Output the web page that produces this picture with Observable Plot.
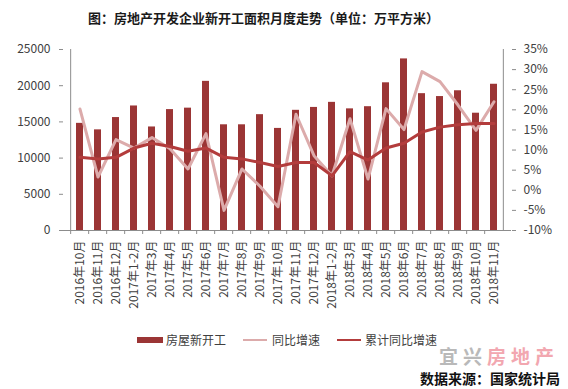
<!DOCTYPE html>
<html>
<head>
<meta charset="utf-8">
<script src="https://cdn.jsdelivr.net/npm/d3@7"></script>
<script src="https://cdn.jsdelivr.net/npm/@observablehq/plot@0.6"></script>
<style>
  body { margin: 0; background: #fff; }
  #wrap { position: relative; width: 568px; height: 389px; overflow: hidden; font-family: "Noto Sans CJK SC", sans-serif; }
  #wrap svg { position: absolute; left: 0; top: 0; }
  .abs { position: absolute; white-space: nowrap; }
  #title { left: 88px; top: 8px; font-size: 13px; font-weight: bold; color: #1a1a1a; }
  .leg { font-size: 12px; color: #404040; line-height: 14px; }
  #source { left: 420px; top: 371px; font-size: 14px; font-weight: bold; color: #111; line-height: 15px; }
  #wm { left: 439px; top: 346px; font-size: 19px; font-weight: bold; letter-spacing: 5px; line-height: 19px; }
</style>
</head>
<body>
<div id="wrap">
  <div id="title" class="abs">图：房地产开发企业新开工面积月度走势（单位：万平方米）</div>
  <div class="abs" style="left:137px;top:337px;width:26px;height:6px;background:#9b3535"></div>
  <div class="abs leg" style="left:166px;top:333px">房屋新开工</div>
  <div class="abs" style="left:243px;top:339px;width:24px;height:2px;background:#dcabab"></div>
  <div class="abs leg" style="left:272px;top:333px">同比增速</div>
  <div class="abs" style="left:337px;top:339px;width:24px;height:2px;background:#b33c3c"></div>
  <div class="abs leg" style="left:365px;top:333px">累计同比增速</div>
  <div id="wm" class="abs"><span style="color:#b9b9b9">宜兴</span><span style="color:#f2a7b0">房地产</span></div>
  <div id="source" class="abs">数据来源：国家统计局</div>
</div>
<script>
const categories = ["2016年10月","2016年11月","2016年12月","2017年1-2月","2017年3月","2017年4月","2017年5月","2017年6月","2017年7月","2017年8月","2017年9月","2017年10月","2017年11月","2017年12月","2018年1-2月","2018年3月","2018年4月","2018年5月","2018年6月","2018年7月","2018年8月","2018年9月","2018年10月","2018年11月"];
const newStarts = [14800,13900,15600,17200,14300,16700,16900,20600,14600,14600,16000,14100,16600,17000,17700,16800,17100,20400,23700,18900,18500,19300,16200,20200];
const yoyGrowth = [20.2,3.3,12.6,10.5,13.1,10.3,5.3,14.1,-5.0,5.3,1.0,-4.1,18.9,8.6,3.6,17.8,2.8,20.3,15.1,29.5,27.0,21.2,14.9,22.0];
const cumGrowth = [8.2,7.8,8.2,10.5,11.7,10.9,9.7,10.5,8.2,7.8,6.9,5.9,6.9,6.9,3.6,9.6,7.5,10.5,11.7,14.5,15.7,16.3,16.6,16.6];
const leftTicks = [0,5000,10000,15000,20000,25000];
const rightTicks = [-10,-5,0,5,10,15,20,25,30,35];

const leftMax = 25000, pMin = -10, pMax = 35;
const toLeft = p => (p - pMin) * leftMax / (pMax - pMin);
const fromLeft = v => v * (pMax - pMin) / leftMax + pMin;

const rows = categories.map((c, i) => ({cat: c, starts: newStarts[i], yoy: yoyGrowth[i], cum: cumGrowth[i]}));

const W = 568, H = 389, mL = 63, mR = 57, mT = 49, mB = 159;
const step = (W - mL - mR) / categories.length;
const axisColor = "#8c8c8c";

const chart = Plot.plot({
  width: W, height: H,
  marginTop: mT, marginBottom: mB, marginLeft: mL, marginRight: mR,
  style: {fontFamily: "'Noto Sans CJK SC', sans-serif", fontSize: "12px", color: "#404040", background: "transparent"},
  x: {domain: categories, paddingInner: 0.6, paddingOuter: 0.3, axis: null},
  y: {domain: [0, leftMax], axis: null},
  marks: [
    Plot.barY(rows, {x: "cat", y: "starts", fill: "#9b3535"}),
    Plot.line(rows, {x: "cat", y: d => toLeft(d.yoy), stroke: "#dcabab", strokeWidth: 3}),
    Plot.line(rows, {x: "cat", y: d => toLeft(d.cum), stroke: "#b33c3c", strokeWidth: 3}),
    Plot.ruleY([0], {stroke: axisColor}),
    Plot.ruleX([categories[0]], {dx: -step / 2, y1: 0, y2: leftMax, stroke: axisColor}),
    Plot.ruleX([categories[categories.length - 1]], {dx: step / 2, y1: 0, y2: leftMax, stroke: axisColor}),
    Plot.axisY({anchor: "left", label: null, ticks: leftTicks, tickSize: 4, tickPadding: 9, stroke: axisColor, tickFormat: d => String(d)}),
    Plot.axisY({anchor: "right", label: null, ticks: rightTicks.map(toLeft), tickSize: 4, tickPadding: 8, stroke: axisColor, tickFormat: v => Math.round(fromLeft(v)) + "%"}),
    Plot.axisX({label: null, tickSize: 4, dx: -step / 2, stroke: axisColor, tickFormat: () => ""}),
    Plot.axisX({label: null, tickRotate: -90, tickSize: 0, tickPadding: 10})
  ]
});
document.getElementById("wrap").prepend(chart);
</script>
</body>
</html>
